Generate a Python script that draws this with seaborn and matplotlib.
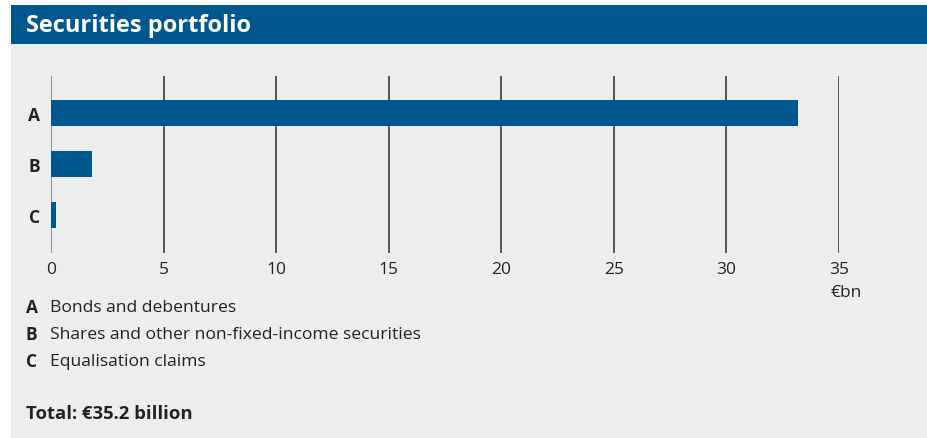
import matplotlib
matplotlib.use("Agg")
import matplotlib.pyplot as plt
import seaborn as sns
import pandas as pd
from matplotlib.patches import Rectangle

categories = ["A", "B", "C"]
values = [33.2, 1.8, 0.2]
descriptions = ["Bonds and debentures",
                "Shares and other non-fixed-income securities",
                "Equalisation claims"]
x_ticks = [0, 5, 10, 15, 20, 25, 30, 35]
title = "Securities portfolio"
unit = "€bn"
total_text = "Total: €35.2 billion"

BLUE = "#00578E"
BG = "#ECEDEF"
W, H = 928, 439

sns.set_style("white")
plt.rcParams["font.family"] = ["Open Sans", "DejaVu Sans"]

fig = plt.figure(figsize=(W / 100, H / 100), dpi=100)
fig.patch.set_facecolor("white")

def fx(px):
    return px / W

def fy(py):
    return 1 - py / H

# background panels
fig.patches.append(Rectangle((fx(11), fy(439)), fx(W - 11), (439 - 45) / H,
                             transform=fig.transFigure, facecolor=BG, edgecolor="none", zorder=-10))
fig.patches.append(Rectangle((fx(11), fy(45)), fx(W - 11), (45 - 6) / H,
                             transform=fig.transFigure, facecolor=BLUE, edgecolor="none", zorder=-10))
fig.text(fx(26), fy(25.5), title, color="white", fontsize=17, fontweight="bold",
         va="center", ha="left")

# axes: x 0..35 -> px 51..839 ; y px 77..254
ax = fig.add_axes([fx(51), fy(254), fx(839 - 51), (254 - 77) / H])
ax.set_facecolor("none")
df = pd.DataFrame({"cat": categories, "val": values})
for v in x_ticks:
    ax.axvline(v, color="#8a8a8a" if v == 0 else "#505050", lw=1.35, zorder=1)
sns.barplot(data=df, x="val", y="cat", color=BLUE, saturation=1, width=0.51,
            ax=ax, zorder=3, edgecolor="none")
ax.set_xlim(0, 35)
ax.set_ylim(2 + 38 / 51, -37 / 51)
ax.set_xticks(x_ticks)
ax.set_xticklabels([str(t) for t in x_ticks], fontsize=12.5, color="#222222")
ax.tick_params(axis="x", length=0, pad=6)
ax.tick_params(axis="y", length=0, pad=8)
ax.set_yticks(range(len(categories)))
ax.set_yticklabels(categories, fontsize=12.5, fontweight="bold", color="#222222")
ax.set_xlabel("")
ax.set_ylabel("")
for s in ax.spines.values():
    s.set_visible(False)

fig.text(fx(831), fy(293), unit, fontsize=12.5, color="#222222", va="center", ha="left")

# legend text
for i, (c, d) in enumerate(zip(categories, descriptions)):
    y = 308 + i * 27
    fig.text(fx(26), fy(y), c, fontsize=12.5, fontweight="bold", color="#222222", va="center", ha="left")
    fig.text(fx(50), fy(y), d, fontsize=12.6, color="#222222", va="center", ha="left")

fig.text(fx(26), fy(414), total_text, fontsize=13.3, fontweight="bold", color="#222222",
         va="center", ha="left")

fig.savefig("out.png", dpi=100, facecolor="white")
